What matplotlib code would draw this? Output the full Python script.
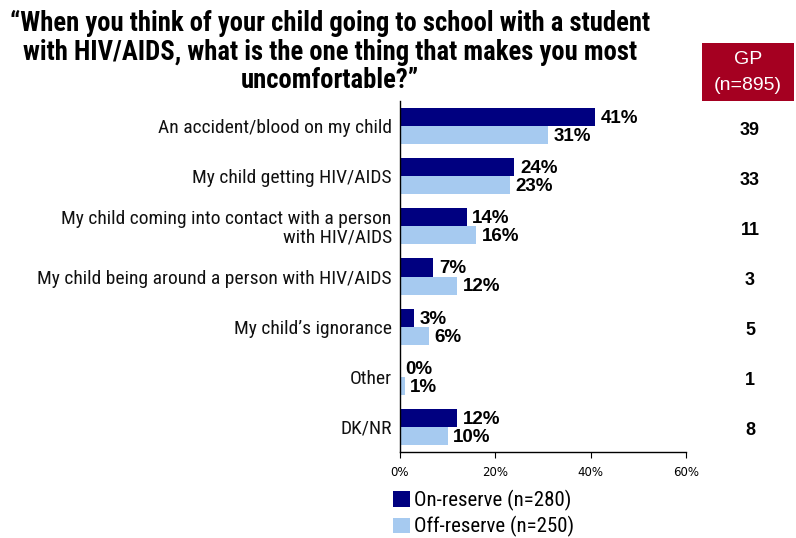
import matplotlib
matplotlib.use("Agg")
import matplotlib.pyplot as plt
from matplotlib.patches import Rectangle, Patch
from matplotlib.transforms import blended_transform_factory
import numpy as np

categories = [
    "An accident/blood on my child",
    "My child getting HIV/AIDS",
    "My child coming into contact with a person\nwith HIV/AIDS",
    "My child being around a person with HIV/AIDS",
    "My child\u2019s ignorance",
    "Other",
    "DK/NR",
]
on_reserve = [41, 24, 14, 7, 3, 0, 12]
off_reserve = [31, 23, 16, 12, 6, 1, 10]
gp_values = [39, 33, 11, 3, 5, 1, 8]
series_names = ["On-reserve (n=280)", "Off-reserve (n=250)"]
x_ticks = [0, 20, 40, 60]

NARROW = ["Roboto Condensed", "Liberation Sans", "DejaVu Sans"]
ARIAL = ["Liberation Sans", "DejaVu Sans"]
DARK = "#000080"
LIGHT = "#A6CAF0"
RED = "#A50021"

W, H = 796, 538
fig = plt.figure(figsize=(W / 100, H / 100), dpi=100)
ax = fig.add_axes([400 / W, 1 - 452 / H, (686 - 400) / W, (452 - 101) / H])

y = np.arange(len(categories))
bh = 0.36
ax.barh(y - bh / 2, on_reserve, height=bh, color=DARK, label=series_names[0])
ax.barh(y + bh / 2, off_reserve, height=bh, color=LIGHT, label=series_names[1])

for yi, v in zip(y, on_reserve):
    ax.annotate(f"{v}%", (v, yi - bh / 2), xytext=(4, -1), textcoords="offset points",
                ha="left", va="center", fontsize=13.5, fontweight="bold", family=ARIAL)
for yi, v in zip(y, off_reserve):
    ax.annotate(f"{v}%", (v, yi + bh / 2), xytext=(4, -1), textcoords="offset points",
                ha="left", va="center", fontsize=13.5, fontweight="bold", family=ARIAL)

ax.set_xlim(0, 60)
ax.set_ylim(len(categories) - 0.5, -0.5)
ax.set_xticks(x_ticks)
ax.set_xticklabels([f"{t}%" for t in x_ticks], fontsize=8.5, family="DejaVu Sans")
ax.set_yticks(y)
ax.set_yticklabels(categories, fontsize=14, family=NARROW, linespacing=1.0, color="#111111")
ax.tick_params(axis="y", length=0, pad=6)
ax.tick_params(axis="x", direction="out", length=4, pad=6, color="black")
for s in ["top", "right"]:
    ax.spines[s].set_visible(False)
for s in ["left", "bottom"]:
    ax.spines[s].set_linewidth(1.0)
    ax.spines[s].set_color("black")

# GP column
tr = blended_transform_factory(fig.transFigure, ax.transData)
for yi, v in zip(y, gp_values):
    ax.text(750 / W, yi + 0.08, str(v), transform=tr, ha="center", va="center",
            fontsize=13, fontweight="bold", family=ARIAL, clip_on=False)

fig.patches.append(Rectangle((702 / W, 1 - 101 / H), (794 - 702) / W, (101 - 43) / H,
                             transform=fig.transFigure, facecolor=RED, edgecolor="none"))
fig.text(748 / W, 1 - 60 / H, "GP", ha="center", va="center", color="white",
         fontsize=14, family=ARIAL)
fig.text(748 / W, 1 - 86 / H, "(n=895)", ha="center", va="center", color="white",
         fontsize=14, family=ARIAL)

# Title
title = ("\u201cWhen you think of your child going to school with a student\n"
         "with HIV/AIDS, what is the one thing that makes you most\n"
         "uncomfortable?\u201d")
fig.text(330 / W, 1 - 52 / H, title, ha="center", va="center", fontsize=19.2,
         fontweight="bold", family=NARROW, linespacing=1.08)

# Legend
handles = [Patch(facecolor=DARK, edgecolor="none"), Patch(facecolor=LIGHT, edgecolor="none")]
fig.legend(handles, series_names, loc="upper left", bbox_to_anchor=(393 / W, 1 - 490 / H),
           frameon=False, prop={"family": NARROW, "size": 15}, handlelength=0.8,
           handleheight=0.8, handletextpad=0.2, labelspacing=0.25, borderpad=0, borderaxespad=0)

fig.savefig("out.png", dpi=100)
